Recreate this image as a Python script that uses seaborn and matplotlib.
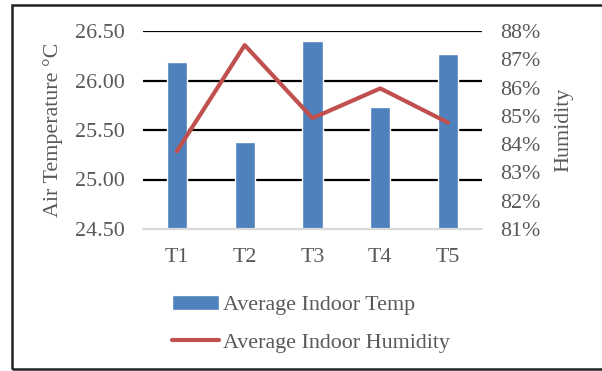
import matplotlib
matplotlib.use("Agg")
import matplotlib.pyplot as plt
from matplotlib.patches import Rectangle
from matplotlib.ticker import FuncFormatter
import seaborn as sns
import pandas as pd

# Readings per test period
periods = ["T1", "T2", "T3", "T4", "T5"]
avg_temp = [26.19, 25.38, 26.40, 25.73, 26.27]        # °C
avg_humidity = [83.75, 87.50, 84.92, 85.97, 84.76]    # %

temp_ticks = [24.50, 25.00, 25.50, 26.00, 26.50]
hum_ticks = [81, 82, 83, 84, 85, 86, 87, 88]

sns.set_theme(style="white")
plt.rcParams["font.family"] = ["Liberation Serif", "DejaVu Serif"]

TEXT = "#595959"
BLUE = "#4F81BD"
RED = "#C0504D"
FS = 15.8

df = pd.DataFrame({"period": periods, "temp": avg_temp, "hum": avg_humidity})

fig = plt.figure(figsize=(6.02, 3.71), dpi=100)
W, H = 602, 371
ax = fig.add_axes([143 / W, (H - 229) / H, (482 - 143) / W, (229 - 31) / H])

sns.barplot(data=df, x="period", y="temp", color=BLUE, width=0.30,
            saturation=1, ax=ax, zorder=3, label="Average Indoor Temp")
ax.set_ylim(24.5, 26.5)
ax.set_xlim(-0.5, 4.5)
ax.set_yticks(temp_ticks)
ax.yaxis.set_major_formatter(FuncFormatter(lambda v, p: f"{v:.2f}"))
for y in temp_ticks[1:]:
    ax.axhline(y, color="black", lw=1.6, zorder=1)
ax.axhline(24.5, color="#D9D9D9", lw=1.6, zorder=4, clip_on=False)
for s in ax.spines.values():
    s.set_visible(False)
ax.tick_params(axis="both", length=0, labelsize=FS, labelcolor=TEXT)
ax.tick_params(axis="y", pad=13)
ax.tick_params(axis="x", pad=14)
ax.set_xlabel("")
ax.set_ylabel("Air Temperature °C", fontsize=FS, color=TEXT, labelpad=9)

ax2 = ax.twinx()
sns.lineplot(data=df, x="period", y="hum", color=RED, lw=3.0, ax=ax2,
             zorder=5, label="Average Indoor Humidity", legend=False)
ax2.set_ylim(81, 88)
ax2.set_xlim(-0.5, 4.5)
ax2.set_yticks(hum_ticks)
ax2.yaxis.set_major_formatter(FuncFormatter(lambda v, p: f"{v:.0f}%"))
for s in ax2.spines.values():
    s.set_visible(False)
ax2.tick_params(axis="y", length=0, labelsize=FS, labelcolor=TEXT, pad=13)
ax2.set_ylabel("Humidity", fontsize=FS, color=TEXT, labelpad=10)
ax2.grid(False)
ax.grid(False)

if ax.get_legend() is not None:
    ax.get_legend().remove()
h1, l1 = ax.get_legend_handles_labels()
h2, l2 = ax2.get_legend_handles_labels()
leg = fig.legend(h1 + h2, l1 + l2, loc="upper left",
                 bbox_to_anchor=(152 / W, 1 - 275 / H), frameon=False,
                 fontsize=FS, labelcolor=TEXT, handlelength=2.15,
                 handletextpad=0.2, labelspacing=0.8, handleheight=0.7)

# Outer frame of the chart
fig.patches.append(Rectangle((12 / W, 2.5 / H), 1.2, 1 - 7 / H,
                             transform=fig.transFigure, fill=False,
                             edgecolor="#222222", lw=1.8))

fig.savefig("out.png", dpi=100)
